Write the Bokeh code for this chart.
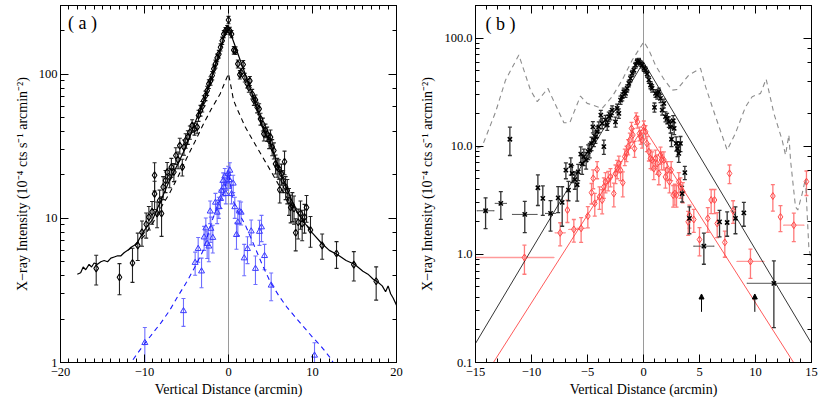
from bokeh.plotting import figure
from bokeh.models import (ColumnDataSource, Whisker, TeeHead, Span, Label, Range1d,
                          LinearAxis, LogAxis, SingleIntervalTicker, LogTicker,
                          Arrow, NormalHead, CustomJSTickFormatter)
from bokeh.layouts import row
from bokeh.embed import file_html
from bokeh.resources import INLINE

# ---------------- Panel (a) data ----------------
a_tot_x = [-18.0, -17.6, -17.3, -17.0, -16.6, -16.3, -16.0, -15.6, -15.2, -14.8, -14.4, -14.0, -13.6, -13.2,
           -12.8, -12.4, -12.0, -11.6, -11.2, -10.8, -10.0, -9.0, -8.0, -7.0, -6.0, -5.0, -4.0, -3.0, -2.0,
           -1.0, -0.5, 0.0, 0.5, 1.0, 2.0, 3.0, 4.0, 5.0, 6.0, 7.0, 8.0, 9.0, 10.0, 11.0, 12.0, 13.0, 14.0,
           15.0, 16.0, 16.6, 17.2, 17.8, 18.3, 18.7, 19.0, 19.3, 19.6, 20.0]
a_tot_y = [4.1, 4.2, 4.6, 4.4, 4.8, 4.6, 4.9, 4.8, 5.0, 5.1, 5.0, 5.3, 5.4, 5.5,
           5.5, 5.8, 6.0, 6.3, 6.5, 6.9, 8.3, 9.9, 13.5, 18.5, 24.0, 32.0, 46.0, 64.0, 95.0,
           145.0, 185.0, 215.0, 175.0, 145.0, 100.0, 68.0, 44.0, 33.0, 22.0, 15.8, 11.5, 9.4, 7.9, 6.8, 6.0, 5.6, 5.1,
           4.8, 4.3, 4.1, 3.8, 3.6, 3.4, 3.1, 3.4, 3.0, 2.8, 2.5]

a_dash_x = [-12.0, -11.0, -10.0, -9.0, -8.0, -7.0, -6.0, -5.0, -4.0, -3.0, -2.0, -1.0, -0.5, 0.0,
            0.3, 0.6, 1.0, 2.0, 3.0, 4.0, 5.0, 6.0, 7.0, 8.0, 9.0, 10.0]
a_dash_y = [6.0, 6.6, 7.6, 9.3, 12.0, 15.0, 19.5, 26.0, 34.0, 45.0, 58.0, 73.0, 86.0, 101.0,
            82.0, 66.0, 58.0, 43.0, 34.0, 27.0, 21.5, 17.0, 13.8, 11.3, 9.5, 8.0]

a_blue_line_x = [-12.0, -10.0, -9.0, -8.0, -7.0, -6.0, -5.0, -4.0, -3.0, -2.0, -1.0, -0.5, 0.0,
                 0.5, 1.0, 2.0, 3.0, 4.0, 5.0, 6.0, 7.0, 8.0, 9.0, 10.0, 11.0, 12.0, 12.6]
a_blue_line_y = [0.93, 1.35, 1.6, 1.9, 2.3, 2.9, 3.6, 4.6, 6.0, 9.5, 13.5, 15.5, 21.0,
                 13.5, 11.5, 9.0, 6.6, 4.8, 3.6, 2.9, 2.4, 2.05, 1.75, 1.5, 1.3, 1.1, 0.97]

a_dia_x = [-15.75, -12.98, -11.43, -10.8, -10.3, -9.8, -9.48, -9.1, -8.8, -8.8, -8.5, -8.2, -7.97, -7.78,
           -7.5, -7.3, -7.0, -6.8, -6.5, -6.27, -6.0, -5.8, -5.5, -5.3, -5.1, -4.84, -4.6, -4.33, -4.05,
           -3.73, -3.57, -3.33, -3.13, -2.94, -2.74, -2.54, -2.34, -2.14, -1.94, -1.75, -1.55, -1.35, -1.15,
           -0.95, -0.75, -0.56, -0.36, -0.16, 0.0, 0.16, 0.36, 0.63, 0.83, 1.11, 1.35, 1.5, 1.75, 1.94,
           2.22, 2.42, 2.54, 2.82, 3.02, 3.21, 3.41, 3.65, 3.81, 4.09, 4.21, 4.4, 4.6, 4.84, 5.0, 5.2,
           5.4, 5.6, 5.8, 6.0, 6.1, 6.3, 6.5, 6.67, 6.8, 7.0, 7.2, 7.4, 7.6, 7.8, 8.0, 8.3, 8.57, 8.77,
           9.05, 9.29, 9.76, 11.15, 12.86, 14.92, 17.58]
a_dia_y = [4.5, 3.9, 4.9, 6.5, 8.0, 9.1, 10.2, 11.1, 14.8, 19.9, 10.8, 13.3, 10.8, 16.5,
           18.3, 21.0, 19.3, 22.7, 21.0, 27.3, 25.5, 32.0, 22.7, 31.2, 34.7, 36.6, 39.6, 44.0, 41.8,
           43.0, 51.7, 56.0, 59.7, 65.7, 71.0, 77.0, 85.7, 90.0, 98.0, 109.0, 118.0, 130.0, 138.0,
           154.0, 171.0, 190.0, 200.0, 206.0, 238.0, 200.0, 190.0, 147.0, 146.0, 118.0, 99.5, 103.0, 117.0, 95.0,
           86.5, 81.0, 90.0, 73.0, 66.0, 66.4, 59.0, 57.5, 49.0, 45.0, 38.6, 40.7, 38.6, 34.7, 36.6, 31.2,
           29.6, 23.9, 22.7, 22.1, 15.8, 20.4, 18.3, 24.7, 16.5, 15.6, 13.3, 11.9, 12.3, 11.7, 7.95, 9.4, 10.8, 9.2,
           10.2, 11.9, 8.3, 6.5, 5.7, 4.78, 3.66]
a_dia_err = [1.05, 0.95, 1.3, 1.4, 1.6, 1.8, 1.9, 2.0, 3.3, 4.4, 2.2, 2.4, 3.3, 3.0,
             3.2, 3.4, 3.0, 3.4, 3.0, 3.6, 3.4, 4.0, 3.0, 3.8, 4.0, 4.0, 4.2, 4.4, 4.0,
             4.0, 4.6, 4.8, 5.0, 5.2, 5.4, 5.6, 6.0, 6.2, 6.6, 7.0, 7.4, 8.0, 8.4,
             9.0, 10.0, 11.0, 11.0, 12.0, 14.0, 12.0, 11.0, 9.0, 9.0, 7.6, 6.8, 7.0, 7.6, 6.6,
             6.2, 6.0, 6.4, 5.6, 5.2, 5.4, 5.0, 5.0, 4.6, 4.6, 4.2, 4.4, 4.4, 4.2, 4.4, 4.0,
             3.8, 3.6, 3.4, 3.4, 3.0, 3.4, 3.2, 4.6, 3.0, 3.0, 2.8, 2.6, 2.8, 2.6, 2.0, 2.2, 2.4, 2.2,
             2.3, 2.5, 2.0, 1.3, 1.2, 1.1, 0.95]

a_tri_x = [-9.96, -5.36, -3.97, -3.61, -3.21, -2.9, -2.7, -2.54, -2.34, -2.18, -2.1, -1.87, -1.55, -1.35,
           -1.15, -0.95, -0.83, -0.63, -0.56, -0.44, -0.32, -0.16, -0.04, 0.08, 0.16, 0.36, 0.56, 0.75,
           0.95, 1.11, 1.3, 1.5, 1.87, 2.26, 2.7, 3.21, 3.69, 3.93, 4.29, 5.08, 10.24]
a_tri_y = [1.37, 2.28, 4.93, 6.16, 4.3, 7.4, 8.55, 6.67, 6.4, 11.2, 8.5, 7.35, 12.9, 11.0,
           12.0, 13.7, 15.6, 18.3, 16.5, 19.6, 14.8, 18.1, 20.4, 18.5, 21.5, 14.8, 17.5, 12.0,
           7.7, 9.4, 11.2, 11.0, 5.3, 6.15, 8.15, 4.48, 8.1, 8.7, 5.5, 3.43, 1.12]
a_tri_err = [0.38, 0.5, 0.9, 1.2, 1.0, 1.4, 1.5, 1.4, 1.4, 2.0, 1.7, 1.6, 2.0, 1.8,
             2.0, 2.0, 2.2, 2.4, 2.2, 2.6, 2.2, 2.4, 2.6, 2.4, 2.8, 2.2, 2.4, 2.0,
             1.6, 1.8, 2.0, 2.0, 1.3, 1.3, 1.6, 1.0, 1.6, 1.8, 1.1, 0.75, 0.25]

# ---------------- Panel (b) data ----------------
b_bkg_x = [-14.85, -14.4, -13.2, -12.32, -11.13, -10.09, -9.49, -8.54, -7.11, -6.58, -5.63, -5.03, -3.69,
           -2.8, -1.9, -1.0, 0.03, 0.48, 1.07, 1.8, 2.56, 3.0, 4.05, 5.09, 5.54, 6.43, 7.47, 8.2, 9.1,
           9.7, 10.45, 10.95, 11.64, 12.38, 12.68, 12.98, 13.13, 13.57, 13.78, 14.17, 14.46, 14.76, 14.97]
b_bkg_y = [9.6, 10.0, 20.8, 40.8, 69.7, 33.0, 25.8, 34.3, 16.5, 16.5, 29.1, 24.9, 22.4,
           28.7, 41.0, 62.7, 92.5, 77.6, 56.0, 42.0, 33.0, 33.5, 45.5, 52.5, 35.5, 18.8, 9.2, 13.1, 23.0,
           28.7, 30.8, 41.8, 20.1, 11.4, 8.3, 12.7, 7.4, 2.75, 2.57, 3.65, 5.0, 1.17, 0.88]

b_blk_model_x = [-15.0, 0.0, 15.0]
b_blk_model_y = [0.15, 60.0, 0.15]
b_red_model_x = [-15.0, 0.0, 15.0]
b_red_model_y = [0.055, 15.0, 0.055]

b_blk_x = [-14.1, -12.74, -11.93, -10.6, -9.43, -8.99, -8.3, -7.62, -7.26, -6.93, -6.7, -6.49, -6.37, -6.13,
           -5.92, -5.83, -5.6, -5.48, -5.33, -5.12, -4.94, -4.8, -4.64, -4.52, -4.43, -4.29, -4.14, -3.99,
           -3.81, -3.69, -3.54, -3.39, -3.24, -3.1, -2.95, -2.8, -2.5, -2.35, -2.2, -2.05, -1.9, -1.76,
           -1.61, -1.46, -1.31, -1.16, -1.01, -0.86, -0.71, -0.57, -0.42, -0.27, -0.12, 0.03, 0.18, 0.33,
           0.48, 0.63, 0.77, 0.98, 1.07, 1.22, 1.37, 1.52, 1.67, 1.82, 1.96, 2.11, 2.26, 2.41, 2.5, 2.65,
           2.74, 2.92, 3.04, 3.15, 3.3, 3.45, 3.69, 4.1, 5.39, 6.79, 7.47, 8.21, 8.96, 11.64]
b_blk_y = [2.53, 2.96, 11.6, 2.34, 4.13, 3.29, 2.39, 3.33, 3.02, 6.0, 3.93, 6.6, 5.6, 4.9,
           4.4, 5.8, 8.45, 6.9, 8.0, 7.45, 8.9, 9.2, 10.6, 15.1, 11.4, 12.2, 13.6, 15.1,
           19.4, 16.3, 9.9, 17.5, 15.7, 18.8, 19.4, 21.6, 16.8, 22.4, 20.1, 26.7, 28.7, 31.9,
           30.8, 34.3, 38.1, 42.4, 47.1, 50.6, 56.2, 60.4, 61.4, 58.4, 56.2, 52.5, 50.6, 46.5,
           41.0, 36.8, 34.3, 22.9, 30.8, 29.7, 31.9, 27.7, 21.6, 24.9, 18.8, 18.1, 16.8, 15.1, 11.6, 17.2,
           14.6, 10.6, 9.5, 8.6, 10.6, 3.65, 5.7, 2.15, 1.19, 2.0, 1.97, 2.15, 2.42, 0.54]
b_blk_err = [0.8, 0.85, 3.4, 0.75, 1.3, 1.0, 0.75, 0.9, 1.2, 1.0, 0.8, 1.2, 1.0, 0.9,
             1.3, 1.0, 1.4, 1.4, 1.4, 1.3, 1.4, 1.4, 1.5, 1.8, 1.5, 1.6, 1.6, 1.7,
             2.0, 1.8, 1.5, 1.8, 1.7, 1.9, 1.9, 2.0, 1.8, 2.1, 2.0, 2.3, 2.4, 2.5,
             2.5, 2.6, 2.8, 3.0, 3.2, 3.3, 3.5, 3.6, 3.6, 3.5, 3.4, 3.3, 3.3, 3.1,
             2.9, 2.8, 2.7, 2.2, 2.5, 2.5, 2.6, 2.4, 2.2, 2.3, 2.0, 2.0, 1.9, 1.9, 1.7, 2.0,
             1.8, 1.6, 1.5, 1.5, 1.7, 0.6, 0.8, 0.6, 0.38, 0.55, 0.5, 0.6, 0.6, 0.33]
# horizontal bars of the black points (y, x from, x to)
b_blk_hbar_y = [2.53, 2.96, 2.34, 2.39, 1.19, 0.54]
b_blk_hbar_lo = [-14.85, -13.24, -11.7, -8.75, 4.49, 9.26]
b_blk_hbar_hi = [-13.35, -12.24, -9.5, -7.85, 6.29, 15.0]

b_red_x = [-10.63, -7.44, -6.79, -6.22, -5.57, -4.97, -4.64, -4.49, -4.35, -4.14, -3.93, -3.69, -3.54,
           -3.39, -3.15, -2.95, -2.65, -2.5, -2.35, -2.2, -2.05, -1.85, -1.67, -1.52, -1.37, -1.22,
           -1.07, -0.95, -0.8, -0.65, -0.54, -0.36, -0.24, -0.12, 0.03, 0.18, 0.3, 0.48, 0.63, 0.77,
           0.92, 1.07, 1.22, 1.37, 1.52, 1.61, 1.82, 1.96, 2.11, 2.32, 2.47, 2.65, 2.8, 2.95, 3.15,
           3.3, 3.51, 3.99, 4.1, 4.49, 5.0, 5.74, 6.04, 6.34, 6.58, 7.26, 7.68, 8.0, 9.55, 11.55,
           12.23, 13.42, 14.55]
b_red_y = [0.935, 1.58, 2.57, 1.7, 1.74, 2.26, 3.72, 5.04, 2.96, 6.1, 3.4, 3.17, 4.2,
           4.7, 4.86, 5.2, 3.65, 5.6, 6.2, 6.9, 6.0, 4.6, 8.0, 8.6, 9.9, 11.4,
           14.6, 12.7, 9.5, 18.1, 16.8, 13.1, 12.2, 11.4, 15.1, 13.6, 10.6, 8.9, 7.7, 7.45,
           6.2, 7.7, 6.9, 5.6, 8.3, 7.45, 7.45, 5.2, 6.0, 4.7, 6.0, 3.53, 3.65, 3.53, 4.7,
           4.2, 3.8, 2.0, 2.3, 2.1, 1.37, 2.15, 3.18, 3.18, 1.93, 1.29, 5.6, 2.53, 0.86, 3.46,
           2.22, 1.86, 4.7]
b_red_err = [0.28, 0.38, 0.6, 0.4, 0.45, 0.5, 0.8, 1.0, 0.7, 1.1, 0.8, 0.8, 0.9,
             1.0, 1.0, 1.0, 0.9, 1.1, 1.2, 1.2, 1.2, 1.2, 1.4, 1.4, 1.6, 1.8,
             2.0, 1.8, 1.6, 2.2, 2.1, 1.9, 1.8, 1.8, 2.0, 1.9, 1.7, 1.6, 1.5, 1.4,
             1.3, 1.5, 1.4, 1.2, 1.5, 1.4, 1.4, 1.1, 1.2, 1.0, 1.2, 0.8, 0.8, 0.8, 1.0,
             0.9, 0.8, 0.5, 0.55, 0.5, 0.4, 0.55, 0.8, 0.8, 0.5, 0.35, 1.1, 0.6, 0.26, 0.95,
             0.6, 0.55, 1.2]
b_red_hbar_y = [0.935, 1.58, 1.7, 1.74, 0.86, 1.86]
b_red_hbar_lo = [-15.0, -7.89, -6.67, -5.94, 8.35, 12.52]
b_red_hbar_hi = [-8.0, -6.99, -5.77, -5.2, 10.75, 14.32]

b_arrow_x = [5.18, 9.94]
b_arrow_y0 = [0.294, 0.294]
b_arrow_y1 = [0.43, 0.43]

# ---------------- styling helpers ----------------
FONT = "Liberation Serif"
XFMT = "return tick < 0 ? '\u2212' + Math.abs(tick) : String(tick)"


def style(p, xinterval, xminor, yfmt):
    p.xgrid.visible = False
    p.ygrid.visible = False
    p.outline_line_color = "black"
    p.outline_line_width = 1
    p.background_fill_color = "white"
    p.border_fill_color = "white"
    bottom = p.below[0]
    left = p.left[0]
    tk_x = SingleIntervalTicker(interval=xinterval, num_minor_ticks=xminor)
    bottom.ticker = tk_x
    top = LinearAxis(ticker=tk_x)
    right = LogAxis(ticker=LogTicker())
    p.add_layout(top, "above")
    p.add_layout(right, "right")
    for ax in [bottom, left, top, right]:
        ax.major_tick_in = 8
        ax.major_tick_out = 0
        ax.minor_tick_in = 4
        ax.minor_tick_out = 0
        ax.axis_line_color = "black"
        ax.major_tick_line_color = "black"
        ax.minor_tick_line_color = "black"
        ax.major_label_text_font = FONT
        ax.major_label_text_font_size = "12.5px"
        ax.major_label_text_color = "black"
        ax.axis_label_text_font = FONT
        ax.axis_label_text_font_size = "14px"
        ax.axis_label_text_font_style = "normal"
        ax.axis_label_text_color = "black"
    for ax in [top, right]:
        ax.major_label_text_font_size = "1px"
        ax.major_label_text_color = None
        ax.major_label_standoff = 0
        ax.axis_label_standoff = 0
    bottom.major_label_standoff = 5
    bottom.axis_label_standoff = 3
    bottom.formatter = CustomJSTickFormatter(code=XFMT)
    left.major_label_standoff = 3
    left.axis_label_standoff = 6
    left.formatter = CustomJSTickFormatter(code=yfmt)
    bottom.axis_label = "Vertical Distance (arcmin)"
    left.axis_label = "X\u2212ray Intensity (10\u207b\u2074 cts s\u207b\u00b9 arcmin\u207b\u00b2)"
    p.add_layout(Span(location=0, dimension="height", line_color="#9a9a9a", line_width=1, level="underlay"))


def errbars(p, xs, ys, es, color, width=1.0):
    src = ColumnDataSource(dict(x=xs, lo=[y - e for y, e in zip(ys, es)], hi=[y + e for y, e in zip(ys, es)]))
    w = Whisker(source=src, base="x", lower="lo", upper="hi", dimension="height",
                line_color=color, line_width=width, level="underlay",
                upper_head=TeeHead(size=4, line_color=color, line_width=width),
                lower_head=TeeHead(size=4, line_color=color, line_width=width))
    p.add_layout(w)


def hbars(p, ys, los, his, color, width=1.0):
    src = ColumnDataSource(dict(y=ys, lo=los, hi=his))
    w = Whisker(source=src, base="y", lower="lo", upper="hi", dimension="width",
                line_color=color, line_width=width, level="underlay",
                upper_head=TeeHead(size=1, line_color=color, line_width=width),
                lower_head=TeeHead(size=1, line_color=color, line_width=width))
    p.add_layout(w)


# ---------------- Panel (a) ----------------
pa = figure(frame_width=336, frame_height=357, min_border_left=60, min_border_right=19,
            min_border_top=5, min_border_bottom=0,
            x_range=Range1d(-20, 20), y_range=Range1d(1, 300), y_axis_type="log",
            output_backend="svg", toolbar_location=None)
style(pa, 10, 10, "return tick.toFixed(0)")

pa.line(a_tot_x, a_tot_y, line_color="black", line_width=1.2)
pa.line(a_dash_x, a_dash_y, line_color="black", line_width=1.1, line_dash="5 4")
pa.line(a_blue_line_x, a_blue_line_y, line_color="#1a1aff", line_width=1.1, line_dash="5 4")
errbars(pa, a_dia_x, a_dia_y, a_dia_err, "#222222", 1.1)
errbars(pa, a_tri_x, a_tri_y, a_tri_err, "#6e6eff", 1.1)
pa.scatter(a_dia_x, a_dia_y, marker="diamond", size=7, fill_color=None, line_color="black", line_width=1.1)
pa.scatter(a_tri_x, a_tri_y, marker="triangle", size=6, fill_color=None, line_color="#3a3aff", line_width=1)
pa.add_layout(Label(x=-19.1, y=265, text="( a )", text_font=FONT, text_font_size="18px",
                    text_baseline="top", text_color="black"))

# ---------------- Panel (b) ----------------
pb = figure(frame_width=336, frame_height=357, min_border_left=60, min_border_right=10,
            min_border_top=5, min_border_bottom=0,
            x_range=Range1d(-15, 15), y_range=Range1d(0.1, 200), y_axis_type="log",
            output_backend="svg", toolbar_location=None)
style(pb, 5, 5, "return tick.toFixed(1)")

pb.line(b_bkg_x, b_bkg_y, line_color="#8c8c8c", line_width=1.1, line_dash="5 4")
pb.line(b_blk_model_x, b_blk_model_y, line_color="black", line_width=0.8)
pb.line(b_red_model_x, b_red_model_y, line_color="#ff3030", line_width=0.8)
errbars(pb, b_red_x, b_red_y, b_red_err, "#ff7a7a", 1.3)
hbars(pb, b_red_hbar_y, b_red_hbar_lo, b_red_hbar_hi, "#ff9a9a", 1.3)
errbars(pb, b_blk_x, b_blk_y, b_blk_err, "#333333", 1.3)
hbars(pb, b_blk_hbar_y, b_blk_hbar_lo, b_blk_hbar_hi, "#555555", 1.0)
pb.scatter(b_red_x, b_red_y, marker="diamond", size=7, fill_color=None, line_color="#ff4a4a", line_width=1)
pb.scatter(b_blk_x, b_blk_y, marker="x", size=6, line_color="black", line_width=1.5)
arr_src = ColumnDataSource(dict(x=b_arrow_x, y0=b_arrow_y0, y1=b_arrow_y1))
pb.add_layout(Arrow(source=arr_src, x_start="x", y_start="y0", x_end="x", y_end="y1",
                    line_color="black", line_width=1,
                    end=NormalHead(size=5, fill_color="black", line_color="black")))
pb.add_layout(Label(x=-14.1, y=168, text="( b )", text_font=FONT, text_font_size="18px",
                    text_baseline="top", text_color="black"))

layout = row(pa, pb)
open("out.html", "w").write(file_html(layout, INLINE))
